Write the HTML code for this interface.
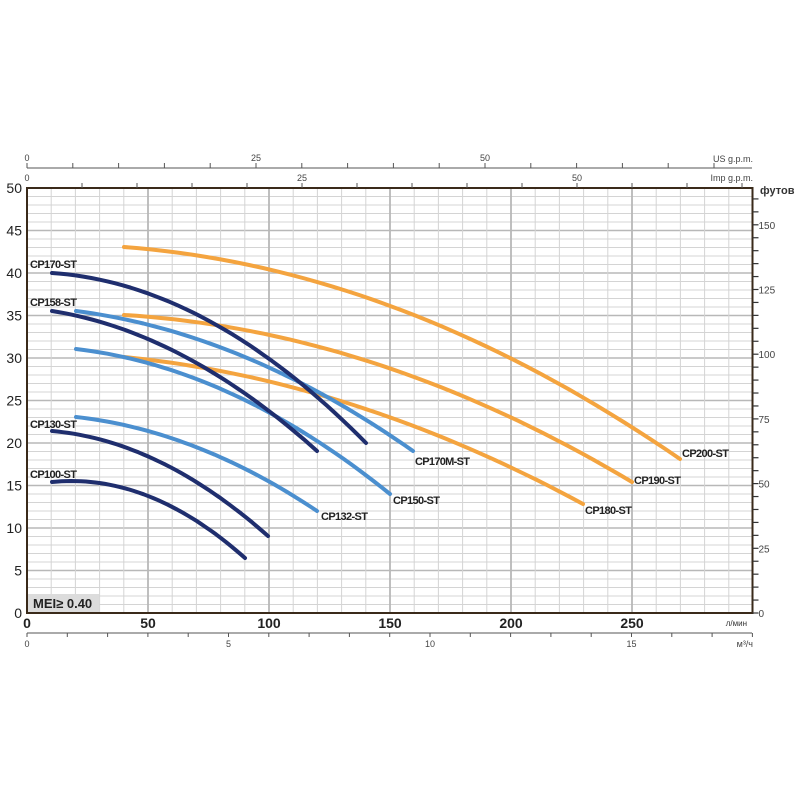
<!DOCTYPE html>
<html><head><meta charset="utf-8"><style>
html,body{margin:0;padding:0;background:#fff;}
svg{display:block;font-family:"Liberation Sans",sans-serif;}
</style></head><body>
<svg id="s" width="800" height="800" viewBox="0 0 800 800" xmlns="http://www.w3.org/2000/svg"></svg>
<script>
const s=document.getElementById('s');let h='';
const L=27,R=752.5,T=188,B=613;
const X=q=>L+q*2.42, Y=m=>B-m*8.5;
for(let m=1;m<50;m++){const y=Y(m);h+=`<line x1="${L}" x2="${R}" y1="${y}" y2="${y}" stroke="${m%5?'#d4d4d4':'#b8b8b8'}" stroke-width="${m%5?1:1.6}"/>`;}
for(let q=10;q<300;q+=10){const x=X(q);h+=`<line x1="${x}" x2="${x}" y1="${T}" y2="${B}" stroke="${q%50?'#d4d4d4':'#b8b8b8'}" stroke-width="${q%50?1:1.8}"/>`;}
h+=`<path d="M${L} ${T}H${R}V${B}H${L}Z" fill="none" stroke="#3a2a1a" stroke-width="2"/>`;
for(let m=0;m<=50;m+=5)h+=`<text x="22" y="${Y(m)+5}" text-anchor="end" font-size="14" fill="#222">${m}</text>`;
for(let q=0;q<=250;q+=50)h+=`<text x="${X(q)}" y="628" text-anchor="middle" font-size="14" font-weight="bold" fill="#222">${q}</text>`;
h+=`<text x="747" y="626" text-anchor="end" font-size="8" fill="#333">л/мин</text>`;
h+=`<line x1="${L}" x2="752" y1="633" y2="633" stroke="#555" stroke-width="1"/>`;
for(let k=0;k<=18;k++){const x=L+k*40.3;if(x>753)break;h+=`<line x1="${x}" x2="${x}" y1="633" y2="637" stroke="#555"/>`;}
[0,5,10,15].forEach(k=>h+=`<text x="${L+k*40.3}" y="647" text-anchor="middle" font-size="9" fill="#444">${k}</text>`);
h+=`<text x="753" y="647" text-anchor="end" font-size="9" fill="#444">м³/ч</text>`;
h+=`<line x1="${L}" x2="752" y1="168" y2="168" stroke="#555"/>`;
for(let k=0;k<=75;k+=5){const x=L+k*9.16;if(x>753)break;h+=`<line x1="${x}" x2="${x}" y1="163" y2="168" stroke="#555"/>`;}
[0,25,50].forEach(k=>h+=`<text x="${L+k*9.16}" y="161" text-anchor="middle" font-size="9" fill="#444">${k}</text>`);
h+=`<text x="753" y="162" text-anchor="end" font-size="9" fill="#444">US g.p.m.</text>`;
for(let k=5;k<=65;k+=5){const x=L+k*11;if(x>750)break;h+=`<line x1="${x}" x2="${x}" y1="183" y2="188" stroke="#555"/>`;}
[0,25,50].forEach(k=>h+=`<text x="${L+k*11}" y="181" text-anchor="middle" font-size="9" fill="#444">${k}</text>`);
h+=`<text x="753" y="181" text-anchor="end" font-size="9" fill="#444">Imp g.p.m.</text>`;
for(let f=0;f<=160;f+=5){const y=B-f*2.588;if(y<T)break;h+=`<line x1="${R}" x2="${R+6}" y1="${y}" y2="${y}" stroke="#333" stroke-width="1.2"/>`;if(f%25==0)h+=`<text x="${R+6}" y="${y+4}" font-size="10" fill="#444">${f}</text>`;}
h+=`<text x="760" y="194" font-size="11" font-weight="bold" fill="#333">футов</text>`;
h+=`<rect x="28" y="594" width="71" height="18" fill="#dcdcdc"/><text x="33" y="608" font-size="13" font-weight="bold" fill="#222">MEI≥ 0.40</text>`;
function quad(p){const [a,b,c]=p;const f=x=>a[1]*(x-b[0])*(x-c[0])/((a[0]-b[0])*(a[0]-c[0]))+b[1]*(x-a[0])*(x-c[0])/((b[0]-a[0])*(b[0]-c[0]))+c[1]*(x-a[0])*(x-b[0])/((c[0]-a[0])*(c[0]-b[0]));
let d='';const n=40;for(let i=0;i<=n;i++){const x=a[0]+(c[0]-a[0])*i/n;d+=(i?'L':'M')+x.toFixed(1)+' '+f(x).toFixed(1);}return d;}
const O='#f4a43f',N='#1f2e6e',Bl='#4b8fcf';
const C=[
[O,[[124,247],[510,358],[680,459]]],
[O,[[124,315],[510,417],[632,482]]],
[O,[[124,357],[510,467],[583,504]]],
[Bl,[[76,311],[270,368],[413,451]]],
[Bl,[[76,349],[270,413],[390,494]]],
[N,[[52,273],[220,327],[366,443]]],
[N,[[52,311],[220,377],[317,451]]],
[Bl,[[76,417],[220,457],[317,511]]],
[N,[[52,431],[170,467],[268,536]]],
[N,[[52,482],[153,498],[245,558]]]];
C.forEach(c=>h+=`<path d="${quad(c[1])}" fill="none" stroke="${c[0]}" stroke-width="4" stroke-linecap="round" stroke-linejoin="round"/>`);
const lb=[['CP170-ST',30,268],['CP158-ST',30,306],['CP130-ST',30,428],['CP100-ST',30,478],['CP132-ST',321,520],['CP150-ST',393,504],['CP170M-ST',415,465],['CP180-ST',585,514],['CP190-ST',634,484],['CP200-ST',682,457]];
lb.forEach(l=>h+=`<text x="${l[1]}" y="${l[2]}" font-size="11" font-weight="bold" fill="#222" textLength="${l[0].length>8?55:47}">${l[0]}</text>`);
s.innerHTML=h;
</script>
</body></html>
